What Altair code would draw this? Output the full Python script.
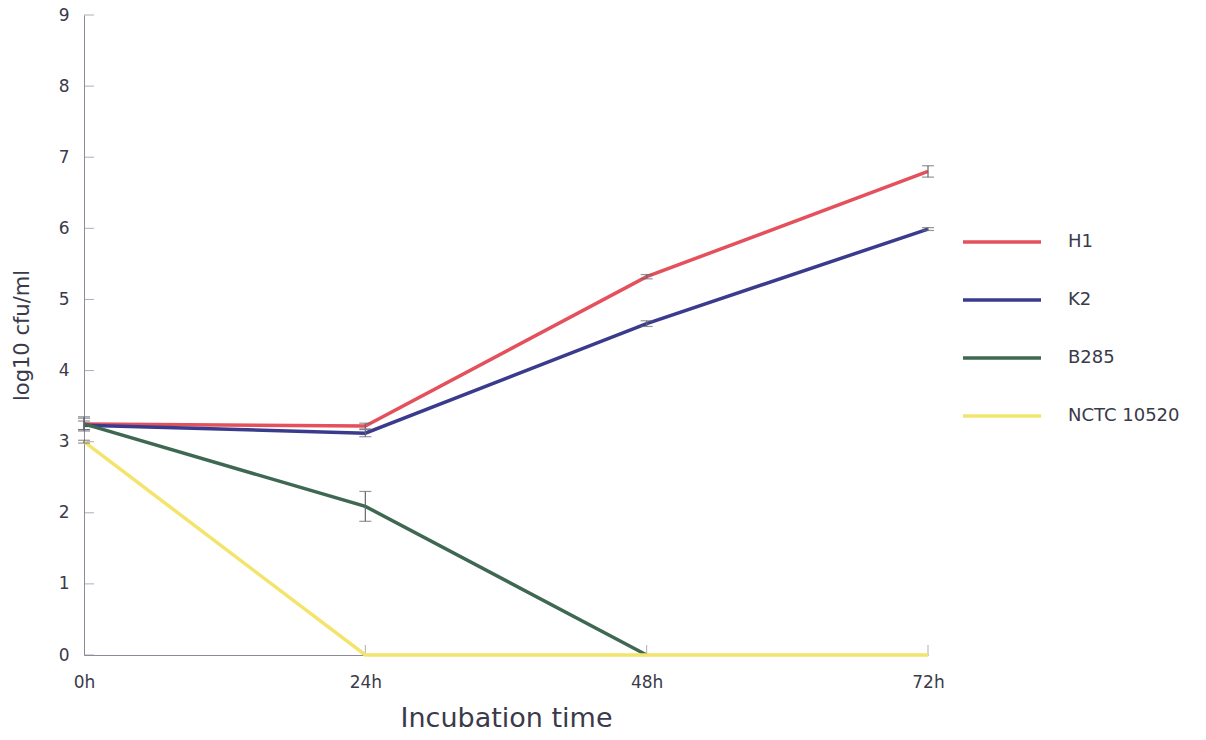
import altair as alt
import pandas as pd

# Incubation time points (hours) and tick labels
times = [0, 24, 48, 72]
time_labels = ["0h", "24h", "48h", "72h"]

# log10 cfu/ml per strain, with error (± half range)
strains = ["H1", "K2", "B285", "NCTC 10520"]
h1 = [3.25, 3.22, 5.32, 6.80]
h1_err = [0.10, 0.04, 0.03, 0.08]
k2 = [3.23, 3.12, 4.66, 5.99]
k2_err = [0.06, 0.05, 0.04, 0.02]
b285 = [3.25, 2.09, 0.0]
b285_err = [0.08, 0.21, 0.0]
nctc = [3.00, 0.0, 0.0, 0.0]
nctc_err = [0.02, 0.0, 0.0, 0.0]

colors = ["#e4505b", "#3b3b8e", "#3e6851", "#f3e46c"]
y_ticks = list(range(0, 10))

FONT = "DejaVu Sans"
TEXT = "#3a3a4a"
AXIS = "#8a8a9a"

rows = []
for name, vals, errs in [("H1", h1, h1_err), ("K2", k2, k2_err),
                         ("B285", b285, b285_err), ("NCTC 10520", nctc, nctc_err)]:
    for t, v, e in zip(times, vals, errs):
        rows.append({"strain": name, "time": t, "value": v,
                     "lo": v - e, "hi": v + e, "err": e})
df = pd.DataFrame(rows)
err_df = df[df["err"] > 0]

label_expr = "{" + ",".join(f"'{t}':'{l}'" for t, l in zip(times, time_labels)) + "}[datum.value]"

x = alt.X("time:Q", scale=alt.Scale(domain=[0, 72], nice=False),
          axis=alt.Axis(values=times, labelExpr=label_expr, title="Incubation time",
                        grid=False, ticks=False, labelPadding=19, titlePadding=15,
                        labelFlush=False, labelFontSize=17, titleFontSize=27,
                        labelColor=TEXT, titleColor=TEXT, domainColor=AXIS,
                        labelFont=FONT, titleFont=FONT, titleFontWeight="normal"))
y = alt.Y("value:Q", scale=alt.Scale(domain=[0, 9], nice=False),
          axis=alt.Axis(values=y_ticks, format="d", title="log10 cfu/ml", grid=False,
                        ticks=False, labelPadding=15, titlePadding=26, labelFontSize=17,
                        titleFontSize=21, labelColor=TEXT, titleColor=TEXT,
                        domainColor=AXIS, labelFont=FONT, titleFont=FONT,
                        titleFontWeight="normal"))

color = alt.Color("strain:N", sort=strains,
                  scale=alt.Scale(domain=strains, range=colors),
                  legend=alt.Legend(title=None, orient="none", legendX=877, legendY=186,
                                    symbolType="stroke", symbolStrokeWidth=3.5,
                                    symbolSize=6084, labelFontSize=18, labelOffset=25,
                                    labelColor=TEXT, labelFont=FONT, rowPadding=8))

lines = alt.Chart(df).mark_line(strokeWidth=3.5).encode(
    x=x, y=y, color=color, order="time:Q", detail="strain:N")

bars = alt.Chart(err_df).mark_rule(color="#666670", strokeWidth=1.2).encode(
    x="time:Q", y="lo:Q", y2="hi:Q")
caps_lo = alt.Chart(err_df).mark_tick(color="#666670", thickness=1.2, size=12,
                                      orient="horizontal").encode(x="time:Q", y="lo:Q")
caps_hi = alt.Chart(err_df).mark_tick(color="#666670", thickness=1.2, size=12,
                                      orient="horizontal").encode(x="time:Q", y="hi:Q")

# inward-pointing ticks on both axes
ytick_df = pd.DataFrame({"v": y_ticks})
yticks = alt.Chart(ytick_df).mark_tick(color=AXIS, thickness=1, size=10,
                                       orient="horizontal", xOffset=5).encode(
    x=alt.datum(0), y="v:Q")
xtick_df = pd.DataFrame({"t": times[1:]})
xticks = alt.Chart(xtick_df).mark_tick(color=AXIS, thickness=1, size=10,
                                       orient="vertical", yOffset=-5).encode(
    x="t:Q", y=alt.datum(0))

chart = alt.layer(yticks, xticks, lines, bars, caps_lo, caps_hi).properties(
    width=844, height=640,
    autosize=alt.AutoSizeParams(type="none"),
    padding={"left": 84, "top": 15, "right": 278, "bottom": 85},
    background="white",
).configure_view(stroke=None)

chart.save("out.html", embed_options={"renderer": "svg", "actions": False})
